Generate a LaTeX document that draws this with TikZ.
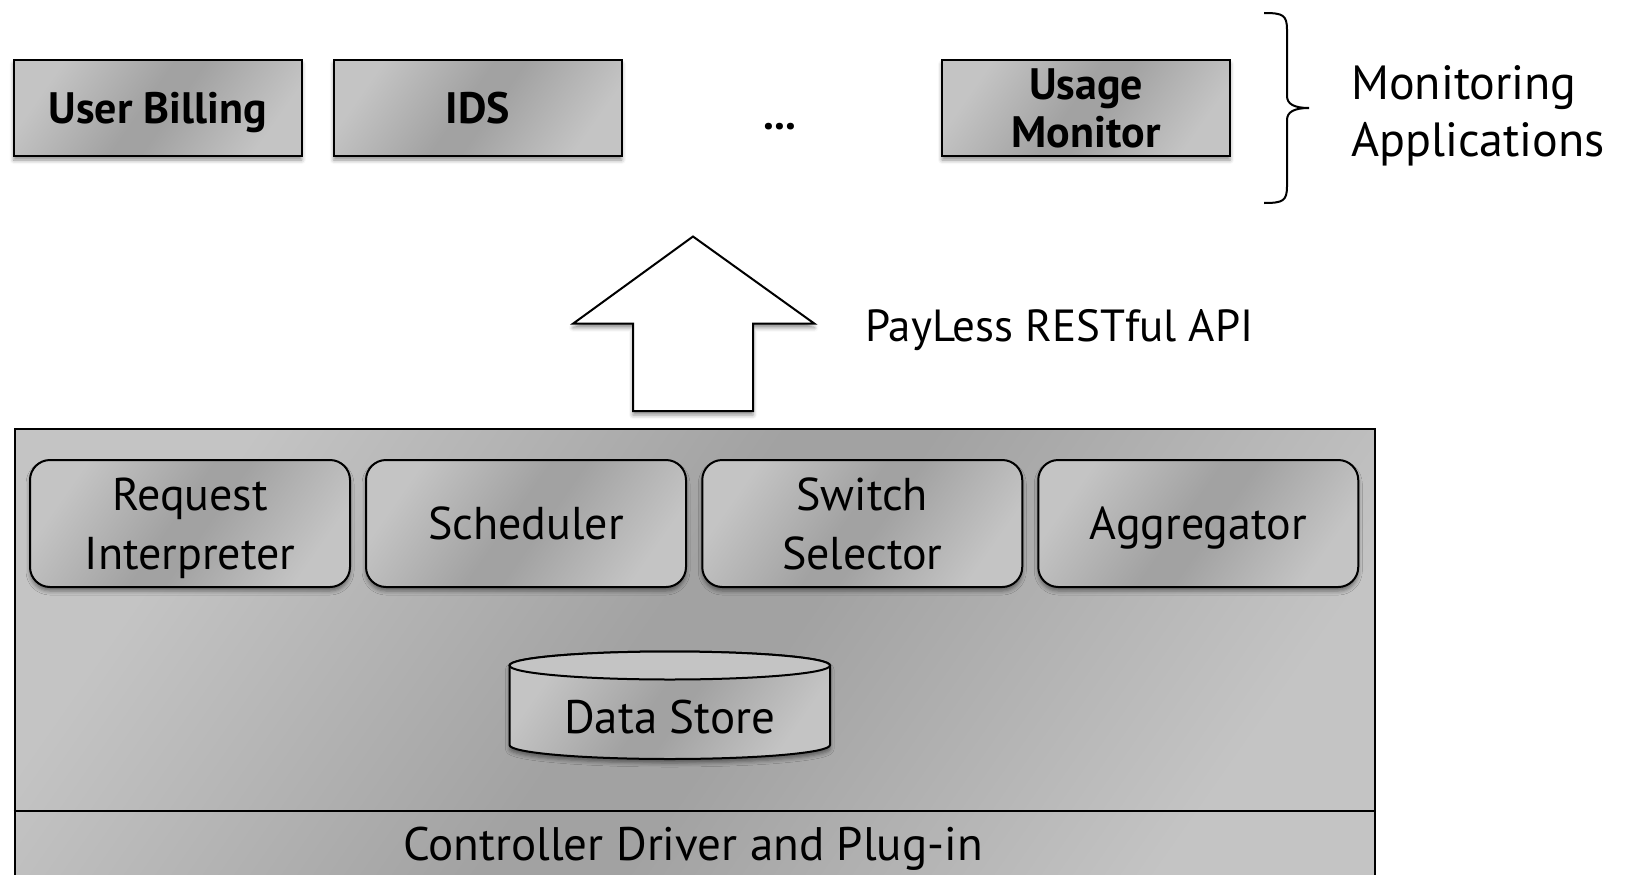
\documentclass[tikz,border=0pt]{standalone}
\usepackage{fontspec}
\setmainfont{PT Sans}
\usetikzlibrary{shadows.blur}

\definecolor{panelLight}{HTML}{C4C4C4}
\definecolor{panelDark}{HTML}{A2A2A2}
\pgfdeclarehorizontalshading{panelshade}{100bp}{%
  color(0bp)=(panelLight); color(25bp)=(panelLight);
  color(47bp)=(panelDark); color(53bp)=(panelDark);
  color(75bp)=(panelLight); color(100bp)=(panelLight)}

\tikzset{
  softshadow/.style={blur shadow={shadow xshift=0pt, shadow yshift=-4pt,
      shadow blur radius=4pt, shadow opacity=45}},
  panel/.style={draw=black, line width=2pt, shading=panelshade, shading angle=-35},
  appbox/.style={panel, softshadow, minimum width=288pt, minimum height=96pt,
      inner sep=0pt, align=center, text depth=0pt,
      font=\bfseries\fontsize{44}{48}\selectfont},
  modbox/.style={panel, softshadow, rounded corners=20pt, minimum width=320pt,
      minimum height=127pt, inner sep=0pt, align=center, text depth=0pt,
      font=\fontsize{46}{59}\selectfont},
  label/.style={inner sep=0pt, font=\fontsize{47}{57}\selectfont},
}

\begin{document}
\begin{tikzpicture}[x=1pt, y=-1pt]
  \useasboundingbox (0,0) rectangle (1627,875);
  \clip (0,0) rectangle (1627,875);

  % monitoring applications
  \node[appbox] (ub) at (157.75,108) {User Billing};
  \node[appbox] (ids) at (477.75,108) {IDS};
  \node[label, font=\bfseries\fontsize{44}{48}\selectfont] (dots) at (780,127) {...};
  \node[appbox] (um) at (1086,108) {Usage\\Monitor};

  % curly brace grouping the applications
  \coordinate (braceTop) at (1264,13);
  \coordinate (braceTip) at (1309,108);
  \coordinate (braceBot) at (1264,203);
  \draw[line width=2pt]
    (braceTop) .. controls (1283,13) and (1287,15) .. (1287,30)
    -- (1287,96) .. controls (1287,104) and (1294,108) .. (braceTip)
    .. controls (1294,108) and (1287,112) .. (1287,120)
    -- (1287,186) .. controls (1287,201) and (1283,203) .. (braceBot);
  \node[label, anchor=west, align=left, font=\fontsize{48}{57}\selectfont]
    (apps) at (1351,116) {Monitoring\\Applications};

  % API arrow
  \draw[line width=2pt, fill=white, softshadow]
    (693,236.5) -- (814.5,323.7) -- (753,323.7) -- (753,411)
    -- (633,411) -- (633,323.7) -- (573,323.7) -- cycle;
  \node[label, anchor=west, font=\fontsize{45}{57}\selectfont]
    (api) at (865,330) {PayLess RESTful API};

  % PayLess framework
  \node[panel, minimum width=1360.5pt, minimum height=480pt, anchor=north west,
        inner sep=0pt] (frame) at (13.5,427.5) {};
  \coordinate (divL) at (13.5,811);
  \coordinate (divR) at (1374,811);
  \draw[line width=2pt] (divL) -- (divR);

  \node[modbox] (req) at (190,523.5) {Request\\Interpreter};
  \node[modbox] (sch) at (526,523.5) {Scheduler};
  \node[modbox] (sel) at (862.25,523.5) {Switch\\Selector};
  \node[modbox] (agg) at (1198.25,523.5) {Aggregator};

  % data store cylinder
  \path[panel, softshadow]
    (509.5,665.5) -- (509.5,745)
    arc[start angle=180, end angle=360, x radius=160.25pt, y radius=14pt]
    -- (830,665.5)
    arc[start angle=0, end angle=180, x radius=160.25pt, y radius=14pt] -- cycle;
  \draw[line width=2pt, fill=panelLight]
    (669.75,665.5) ellipse [x radius=160.25pt, y radius=14pt];
  \node[label] (store) at (669.75,717) {Data Store};

  \node[label] (ctrl) at (693,849) {Controller Driver and Plug-in};
\end{tikzpicture}
\end{document}
